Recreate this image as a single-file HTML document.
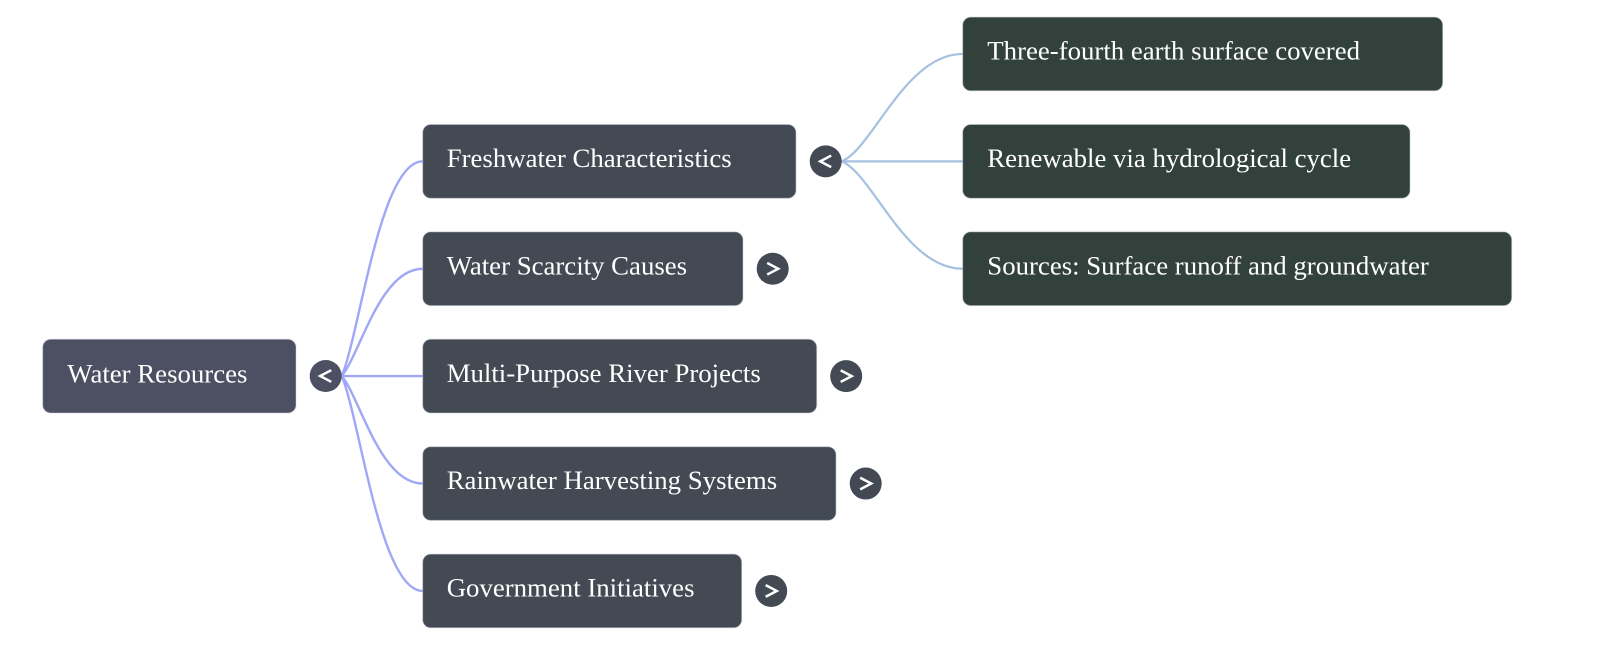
<!DOCTYPE html>
<html>
<head>
<meta charset="utf-8">
<style>
  html, body { margin: 0; padding: 0; background: #ffffff; }
  body { width: 1600px; height: 645px; overflow: hidden; }
  svg { display: block; }
  text { font-family: "Liberation Serif", serif; font-size: 26.8px; fill: #ffffff; }
</style>
</head>
<body>
<svg width="1600" height="645" viewBox="0 0 1600 645" xmlns="http://www.w3.org/2000/svg">
  <!-- Level 1 connectors -->
  <g fill="none" stroke="#9ea8f6" stroke-width="2.4">
    <path d="M 341.7 376 C 360 333, 380 161.35, 422.7 161.35"/>
    <path d="M 341.7 376 C 360 354.5, 380 268.75, 422.7 268.75"/>
    <path d="M 341.7 376.1 L 422.7 376.1"/>
    <path d="M 341.7 376 C 360 397.5, 380 483.55, 422.7 483.55"/>
    <path d="M 341.7 376 C 360 419, 380 590.95, 422.7 590.95"/>
  </g>
  <!-- Level 2 connectors -->
  <g fill="none" stroke="#a6c0e0" stroke-width="2.2">
    <path d="M 841.7 161.35 C 873 148.5, 905 53.95, 962.7 53.95"/>
    <path d="M 841.7 161.35 L 962.7 161.35"/>
    <path d="M 841.7 161.35 C 873 174.2, 905 268.75, 962.7 268.75"/>
  </g>

  <!-- Root -->
  <rect x="42.7" y="339.3" width="253.3" height="73.7" rx="8" fill="#4d4f63" stroke="#c9cbd3" stroke-opacity="0.5" stroke-width="1"/>
  <text x="67.3" y="382.6">Water Resources</text>
  <circle cx="325.7" cy="376" r="16" fill="#4d4f63"/>
  <polyline points="331.2,370.2 320.2,376 331.2,381.8" fill="none" stroke="#ffffff" stroke-width="2.5" stroke-linecap="butt" stroke-linejoin="miter"/>

  <!-- Level 1 boxes -->
  <g fill="#434a54" stroke="#c4c8cd" stroke-opacity="0.5" stroke-width="1">
    <rect x="422.7" y="124.5" width="373.3" height="73.7" rx="8"/>
    <rect x="422.7" y="231.9" width="320.3" height="73.7" rx="8"/>
    <rect x="422.7" y="339.3" width="394" height="73.7" rx="8"/>
    <rect x="422.7" y="446.7" width="413.3" height="73.7" rx="8"/>
    <rect x="422.7" y="554.1" width="319" height="73.7" rx="8"/>
  </g>
  <text x="446.7" y="167">Freshwater Characteristics</text>
  <text x="446.7" y="274.4">Water Scarcity Causes</text>
  <text x="446.7" y="381.8">Multi-Purpose River Projects</text>
  <text x="446.7" y="489.2">Rainwater Harvesting Systems</text>
  <text x="446.7" y="596.6">Government Initiatives</text>

  <!-- Level 1 toggles -->
  <g fill="#434a54">
    <circle cx="825.7" cy="161.35" r="16"/>
    <circle cx="772.7" cy="268.75" r="16"/>
    <circle cx="846.2" cy="376.15" r="16"/>
    <circle cx="865.7" cy="483.55" r="16"/>
    <circle cx="771.2" cy="590.95" r="16"/>
  </g>
  <g fill="none" stroke="#ffffff" stroke-width="2.5" stroke-linecap="butt" stroke-linejoin="miter">
    <polyline points="831.2,155.55 820.2,161.35 831.2,167.15"/>
    <polyline points="767.2,262.95 778.2,268.75 767.2,274.55"/>
    <polyline points="840.7,370.35 851.7,376.15 840.7,381.95"/>
    <polyline points="860.2,477.75 871.2,483.55 860.2,489.35"/>
    <polyline points="765.7,585.15 776.7,590.95 765.7,596.75"/>
  </g>

  <!-- Level 2 boxes -->
  <g fill="#32413c" stroke="#c2c8c6" stroke-opacity="0.5" stroke-width="1">
    <rect x="962.7" y="17.1" width="480" height="73.7" rx="8"/>
    <rect x="962.7" y="124.5" width="447.3" height="73.7" rx="8"/>
    <rect x="962.7" y="231.9" width="549" height="73.7" rx="8"/>
  </g>
  <text x="987.3" y="59.6">Three-fourth earth surface covered</text>
  <text x="987.3" y="167">Renewable via hydrological cycle</text>
  <text x="987.3" y="274.4">Sources: Surface runoff and groundwater</text>
</svg>
</body>
</html>
